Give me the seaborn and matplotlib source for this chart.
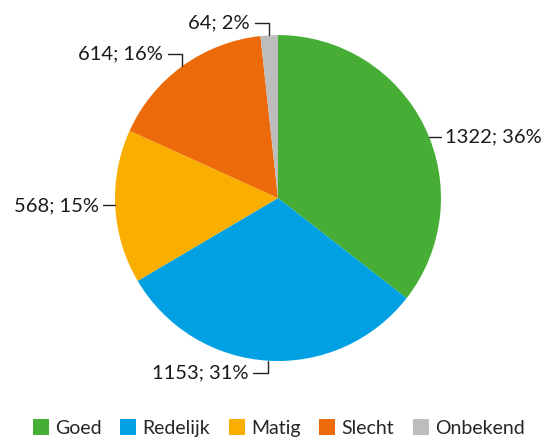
import numpy as np
import matplotlib
matplotlib.use("Agg")
import matplotlib.pyplot as plt
import seaborn as sns
from matplotlib.lines import Line2D

# data
categories = ["Goed", "Redelijk", "Matig", "Slecht", "Onbekend"]
counts = [1322, 1153, 568, 614, 64]
percents = [36, 31, 15, 16, 2]
colors = ["#46ae35", "#00a0e2", "#f9ae00", "#ec6a0a", "#bdbdbd"]

sns.set_theme(style="white")
plt.rcParams["font.family"] = ["Lato", "DejaVu Sans"]

fig = plt.figure(figsize=(5.42, 4.37), dpi=100)
ax = fig.add_axes([0, 0, 1, 1])

wedges, _ = ax.pie(counts, colors=colors, startangle=90, counterclock=False,
                   radius=1.0, wedgeprops=dict(linewidth=0))

ax.set_xlim(-1.706, 1.620)
ax.set_ylim(-1.466, 1.215)
ax.set_aspect("equal")
ax.axis("off")

fs = 14.5
for w, n, p in zip(wedges, counts, percents):
    theta = np.deg2rad((w.theta1 + w.theta2) / 2)
    x, y = np.cos(theta), np.sin(theta)
    label = f"{n}; {p}%"
    if abs(x) > 0.8:
        # horizontal leader, attached to the rim at the label height
        side = np.sign(x)
        y = 0.85 * y
        x = side * np.sqrt(1 - y ** 2)
        ax.plot([x, x + side * 0.075], [y, y], color="#222222", lw=1)
        ax.text(x + side * 0.1, y, label, ha="left" if side > 0 else "right",
                va="center", fontsize=fs, color="#1a1a1a")
    else:
        # elbow leader: vertical then horizontal to the left
        yy = y + np.sign(y) * 0.075
        ax.plot([x, x, x - 0.09], [y, yy, yy], color="#222222", lw=1)
        ax.text(x - 0.12, yy, label, ha="right", va="center",
                fontsize=fs, color="#1a1a1a")

handles = [Line2D([0], [0], marker="s", linestyle="", markersize=11,
                  markerfacecolor=c, markeredgewidth=0) for c in colors]
fig.legend(handles, categories, loc="lower center", bbox_to_anchor=(0.515, -0.04),
           ncol=5, frameon=False, fontsize=14, handlelength=0.75,
           handletextpad=0.35, columnspacing=1.0)

fig.savefig("out.png", dpi=100)
